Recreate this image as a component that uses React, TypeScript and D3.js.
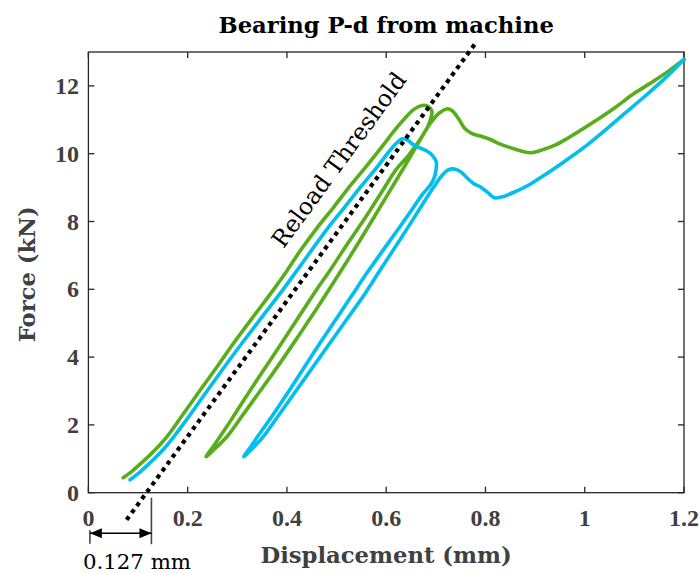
import React from "react";
import * as d3 from "d3";

// Axis ticks
const xTicks = [0, 0.2, 0.4, 0.6, 0.8, 1, 1.2];
const xTickLabels = ["0", "0.2", "0.4", "0.6", "0.8", "1", "1.2"];
const yTicks = [0, 2, 4, 6, 8, 10, 12];
const yTickLabels = ["0", "2", "4", "6", "8", "10", "12"];

// Specimen A (green): load to first peak, unload, reload past second peak and harden
const greenLoadX = [
  0.07, 0.09, 0.11, 0.13, 0.158, 0.19, 0.225, 0.26, 0.292, 0.33, 0.373, 0.4, 0.426, 0.46, 0.494, 0.53,
  0.561, 0.59, 0.612, 0.635, 0.655, 0.672, 0.684, 0.692,
];
const greenLoadY = [
  0.44, 0.66, 0.92, 1.2, 1.65, 2.3, 3.02, 3.73, 4.4, 5.15, 5.99, 6.55, 7.12, 7.8, 8.42, 9.1,
  9.65, 10.18, 10.6, 11.0, 11.3, 11.42, 11.4, 11.25,
];
const greenUnloadX = [
  0.689, 0.681, 0.665, 0.645, 0.621, 0.59, 0.555, 0.52, 0.49, 0.458, 0.42, 0.384, 0.35, 0.314, 0.29, 0.265,
  0.25, 0.237,
];
const greenUnloadY = [
  11.0, 10.72, 10.35, 9.95, 9.55, 8.85, 8.05, 7.3, 6.63, 5.95, 5.1, 4.3, 3.55, 2.75, 2.2, 1.65,
  1.33, 1.06,
];
const greenReloadX = [
  0.255, 0.279, 0.309, 0.338, 0.373, 0.406, 0.445, 0.483, 0.522, 0.562, 0.601, 0.636, 0.666, 0.689, 0.707, 0.722,
  0.733, 0.745, 0.758, 0.772, 0.79, 0.81, 0.83, 0.85, 0.872, 0.892, 0.912, 0.94, 0.965, 0.995, 1.025, 1.06,
  1.1, 1.14, 1.17, 1.2,
];
const greenReloadY = [
  1.3, 1.65, 2.25, 2.84, 3.55, 4.25, 5.1, 5.95, 6.85, 7.8, 8.75, 9.6, 10.35, 10.9, 11.2, 11.32,
  11.27, 11.05, 10.75, 10.6, 10.52, 10.42, 10.28, 10.18, 10.08, 10.03, 10.1, 10.25, 10.45, 10.72, 11.0, 11.35,
  11.78, 12.15, 12.45, 12.78,
];

// Specimen B (cyan)
const cyanLoadX = [
  0.084, 0.1, 0.124, 0.148, 0.172, 0.205, 0.24, 0.275, 0.309, 0.348, 0.392, 0.42, 0.448, 0.482, 0.516, 0.553,
  0.584, 0.605, 0.62, 0.632, 0.643, 0.655, 0.668, 0.682, 0.693, 0.701, 0.7, 0.697,
];
const cyanLoadY = [
  0.38, 0.56, 0.88, 1.23, 1.65, 2.3, 3.02, 3.73, 4.4, 5.15, 5.99, 6.55, 7.12, 7.8, 8.42, 9.1,
  9.65, 10.05, 10.3, 10.44, 10.4, 10.26, 10.17, 10.08, 9.95, 9.75, 9.5, 9.3,
];
const cyanUnloadX = [
  0.69, 0.673, 0.654, 0.628, 0.596, 0.562, 0.53, 0.498, 0.466, 0.435, 0.404, 0.372, 0.343, 0.328, 0.313,
];
const cyanUnloadY = [
  9.1, 8.8, 8.4, 7.85, 7.2, 6.5, 5.8, 5.1, 4.4, 3.7, 3.0, 2.3, 1.7, 1.38, 1.06,
];
const cyanReloadX = [
  0.33, 0.352, 0.384, 0.418, 0.452, 0.486, 0.52, 0.554, 0.585, 0.616, 0.647, 0.673, 0.695, 0.712, 0.725, 0.737,
  0.75, 0.762, 0.776, 0.79, 0.805, 0.818, 0.832, 0.86, 0.89, 0.92, 0.96, 1.0, 1.04, 1.08, 1.12, 1.16,
  1.2,
];
const cyanReloadY = [
  1.3, 1.65, 2.3, 3.0, 3.7, 4.4, 5.1, 5.8, 6.5, 7.2, 7.9, 8.5, 9.0, 9.35, 9.52, 9.55,
  9.47, 9.3, 9.12, 9.02, 8.85, 8.7, 8.72, 8.88, 9.1, 9.38, 9.78, 10.2, 10.68, 11.18, 11.68, 12.2,
  12.78,
];

// Reload threshold line and the 0.127 mm offset it is drawn from
const thresholdX = [0.077, 0.783];
const thresholdY = [-0.8, 13.32];
const offsetMarks = [0, 0.127];

const W = 699;
const H = 574;
const plot = { left: 88.4, right: 684, top: 52, bottom: 492.7 };

const AXIS_COLOR = "#262626";
const LABEL_COLOR = "#404040";
const GREEN = "#58AE1A";
const CYAN = "#00BEEE";

type Pt = [number, number];
const zip = (xs: number[], ys: number[]): Pt[] => xs.map((v, i) => [v, ys[i]] as Pt);

export default function App() {
  const x = d3.scaleLinear().domain([0, 1.2]).range([plot.left, plot.right]);
  const y = d3.scaleLinear().domain([0, 13]).range([plot.bottom, plot.top]);

  const curve = d3
    .line<Pt>()
    .x((d) => x(d[0]))
    .y((d) => y(d[1]))
    .curve(d3.curveCatmullRom.alpha(0.5));
  const straight = d3
    .line<Pt>()
    .x((d) => x(d[0]))
    .y((d) => y(d[1]));

  const green = [
    ...zip(greenLoadX, greenLoadY),
    ...zip(greenUnloadX, greenUnloadY),
    ...zip(greenReloadX, greenReloadY),
  ];
  const cyan = [
    ...zip(cyanLoadX, cyanLoadY),
    ...zip(cyanUnloadX, cyanUnloadY),
    ...zip(cyanReloadX, cyanReloadY),
  ];
  const thresh = zip(thresholdX, thresholdY);

  const angle =
    (Math.atan2(y(thresholdY[1]) - y(thresholdY[0]), x(thresholdX[1]) - x(thresholdX[0])) * 180) / Math.PI;
  const labelX = x(0.518);
  const labelY = y(9.68);

  const tick = 6;
  const tickFont = "'Liberation Serif', 'Times New Roman', serif";
  const textFont = "'DejaVu Serif', serif";

  const arrowY = plot.bottom + 40.5;
  const mx0 = x(offsetMarks[0]) + 1.5;
  const mx1 = x(offsetMarks[1]);

  return (
    <svg
      width={W}
      height={H}
      style={{ position: "absolute", left: 0, top: 0, background: "#fff" }}
      xmlns="http://www.w3.org/2000/svg"
    >
      <defs>
        <marker id="arrowEnd" viewBox="0 0 12 10" refX="12" refY="5" markerWidth="12" markerHeight="10" markerUnits="userSpaceOnUse" orient="auto">
          <path d="M0,0 L12,5 L0,10 Z" fill="#000" />
        </marker>
        <marker id="arrowStart" viewBox="0 0 12 10" refX="0" refY="5" markerWidth="12" markerHeight="10" markerUnits="userSpaceOnUse" orient="auto">
          <path d="M12,0 L0,5 L12,10 Z" fill="#000" />
        </marker>
      </defs>

      {/* Title */}
      <text x={(plot.left + plot.right) / 2} y={33} textAnchor="middle" fontFamily={textFont} fontWeight="bold" fontSize={22.7} fill="#000">
        Bearing P-d from machine
      </text>

      {/* Frame */}
      <rect
        x={plot.left}
        y={plot.top}
        width={plot.right - plot.left}
        height={plot.bottom - plot.top}
        fill="none"
        stroke={AXIS_COLOR}
        strokeWidth={1.3}
      />

      {/* X ticks (bottom and top, inward) */}
      {xTicks.map((t, i) => (
        <g key={"xt" + i}>
          <line x1={x(t)} x2={x(t)} y1={plot.bottom} y2={plot.bottom - tick} stroke={AXIS_COLOR} strokeWidth={1.3} />
          <line x1={x(t)} x2={x(t)} y1={plot.top} y2={plot.top + tick} stroke={AXIS_COLOR} strokeWidth={1.3} />
          <text x={x(t)} y={plot.bottom + 33.5} textAnchor="middle" fontFamily={tickFont} fontWeight="bold" fontSize={24} fill={LABEL_COLOR}>
            {xTickLabels[i]}
          </text>
        </g>
      ))}

      {/* Y ticks (left and right, inward) */}
      {yTicks.map((t, i) => (
        <g key={"yt" + i}>
          <line x1={plot.left} x2={plot.left + tick} y1={y(t)} y2={y(t)} stroke={AXIS_COLOR} strokeWidth={1.3} />
          <line x1={plot.right} x2={plot.right - tick} y1={y(t)} y2={y(t)} stroke={AXIS_COLOR} strokeWidth={1.3} />
          <text x={plot.left - 9.5} y={y(t) + 8} textAnchor="end" fontFamily={tickFont} fontWeight="bold" fontSize={24} fill={LABEL_COLOR}>
            {yTickLabels[i]}
          </text>
        </g>
      ))}

      {/* Axis labels */}
      <text x={(plot.left + plot.right) / 2} y={563} textAnchor="middle" fontFamily={textFont} fontWeight="bold" fontSize={22.7} fill={LABEL_COLOR}>
        Displacement (mm)
      </text>
      <text
        transform={`translate(35, ${(plot.top + plot.bottom) / 2 + 2}) rotate(-90)`}
        textAnchor="middle"
        fontFamily={textFont}
        fontWeight="bold"
        fontSize={22.7}
        fill={LABEL_COLOR}
      >
        Force (kN)
      </text>

      {/* Curves */}
      <path d={curve(green) || ""} fill="none" stroke={GREEN} strokeWidth={3.6} strokeLinejoin="round" strokeLinecap="round" />
      <path d={curve(cyan) || ""} fill="none" stroke={CYAN} strokeWidth={3.6} strokeLinejoin="round" strokeLinecap="round" />

      {/* Reload threshold */}
      <path d={straight(thresh) || ""} fill="none" stroke="#000" strokeWidth={4.2} strokeDasharray="4.2 4.4" />
      <text
        transform={`translate(${labelX}, ${labelY}) rotate(${angle})`}
        textAnchor="middle"
        fontFamily={textFont}
        fontSize={23.5}
        fill="#000"
      >
        Reload Threshold
      </text>

      {/* Offset dimension */}
      <line x1={mx0} x2={mx0} y1={plot.bottom + 37.5} y2={plot.bottom + 51} stroke="#444" strokeWidth={1.6} />
      <line x1={mx1} x2={mx1} y1={plot.bottom + 5} y2={plot.bottom + 51.5} stroke="#444" strokeWidth={1.6} />
      <line
        x1={mx0}
        x2={mx1}
        y1={arrowY}
        y2={arrowY}
        stroke="#000"
        strokeWidth={1.6}
        markerStart="url(#arrowStart)"
        markerEnd="url(#arrowEnd)"
      />
      <text x={x(0) - 5.5} y={569} textAnchor="start" fontFamily={textFont} fontSize={21.3} fill="#000">
        0.127 mm
      </text>
    </svg>
  );
}
